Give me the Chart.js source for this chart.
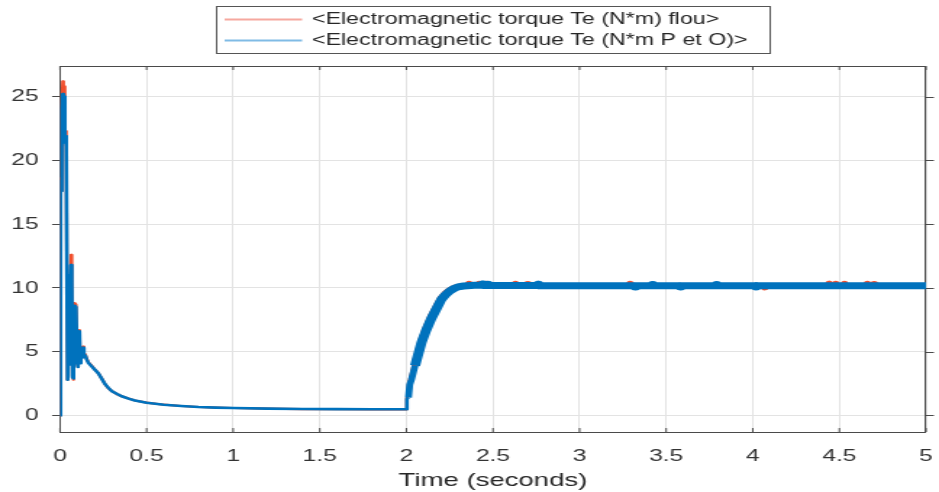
<!DOCTYPE html>
<html>
<head>
<meta charset="utf-8">
<script src="https://cdn.jsdelivr.net/npm/chart.js@4/dist/chart.umd.min.js"></script>
<style>
  html, body { margin: 0; padding: 0; background: #fff; overflow: hidden; }
  /* the figure is drawn narrow and widened, like an exported plot resized to a wide frame */
  #wrap { width: 648px; height: 492px; transform: scaleX(1.449074); transform-origin: 0 0; }
  canvas { display: block; }
</style>
</head>
<body>
<div id="wrap"><canvas id="chart" width="648" height="492"></canvas></div>
<script>
// ---- data ----------------------------------------------------------------
const seriesNames = [
  '<Electromagnetic torque Te (N*m) flou>',
  '<Electromagnetic torque Te (N*m P et O)>'
];

// fuzzy controller torque (s, N*m)
const fuzzyTime = [
  0, 0.002, 0.004, 0.006, 0.008, 0.012, 0.016, 0.020, 0.024, 0.028, 0.032, 0.036,
  0.040, 0.044, 0.048, 0.052, 0.056, 0.060, 0.064, 0.068, 0.072, 0.076, 0.080, 0.086,
  0.092, 0.098, 0.104, 0.108, 0.112, 0.116, 0.120, 0.126, 0.132, 0.138, 0.146, 0.154,
  0.165, 0.183, 0.2, 0.221, 0.24, 0.26, 0.28, 0.3, 0.33, 0.356, 0.4, 0.433, 0.5, 0.6,
  0.7, 0.8, 0.9, 1.0, 1.2, 1.4, 1.6, 1.8, 2.0,
  2.003, 2.012, 2.019, 2.029, 2.05, 2.087, 2.115, 2.144, 2.175, 2.202, 2.225, 2.25,
  2.275, 2.298, 2.33,
  2.357, 2.36, 2.363, 2.394, 2.417, 2.42, 2.423, 2.457, 2.46, 2.463,
  2.627, 2.63, 2.633, 2.697, 2.7, 2.703, 3.0, 3.287, 3.29, 3.293, 3.6,
  4.067, 4.07, 4.073, 4.437, 4.44, 4.443, 4.477, 4.48, 4.483, 4.527, 4.53, 4.533,
  4.657, 4.66, 4.663, 4.697, 4.7, 4.703, 5.0
];
const fuzzyTorque = [
  0, 6.2, 18.6, 17.6, 18.4, 24.5, 26.2, 25.0, 25.8, 21.8, 22.3, 21.3,
  10.5, 2.8, 10.4, 9.9, 4.2, 9.7, 12.6, 10.8, 3.1, 2.8, 5.2, 8.8,
  8.7, 4.4, 3.8, 6.6, 6.7, 4.3, 5.3, 4.6, 5.4, 4.6, 4.8, 4.45,
  4.15, 3.9, 3.62, 3.32, 2.92, 2.45, 2.12, 1.9, 1.66, 1.5, 1.3, 1.17, 1.0, 0.84,
  0.74, 0.66, 0.61, 0.58, 0.53, 0.5, 0.49, 0.48, 0.48,
  1.4, 1.6, 2.5, 3.0, 4.1, 5.9, 6.9, 7.8, 8.6, 9.25, 9.6, 9.85,
  10.02, 10.12, 10.18,
  10.19, 10.36, 10.19, 10.2, 10.19, 10.37, 10.19, 10.19, 10.36, 10.19,
  10.18, 10.36, 10.18, 10.18, 10.35, 10.18, 10.17, 10.17, 10.37, 10.17, 10.17,
  10.17, 10.0, 10.17, 10.17, 10.37, 10.17, 10.17, 10.36, 10.17, 10.17, 10.37, 10.17,
  10.17, 10.36, 10.17, 10.17, 10.35, 10.17, 10.17
];

// P&O controller torque (s, N*m)
const poTime = [
  0, 0.002, 0.004, 0.006, 0.008, 0.012, 0.016, 0.020, 0.024, 0.028, 0.032, 0.036,
  0.040, 0.044, 0.048, 0.052, 0.056, 0.060, 0.064, 0.068, 0.072, 0.076, 0.080, 0.086,
  0.092, 0.098, 0.104, 0.108, 0.112, 0.116, 0.120, 0.126, 0.132, 0.138, 0.146, 0.154,
  0.165, 0.183, 0.2, 0.221, 0.24, 0.26, 0.28, 0.3, 0.33, 0.356, 0.4, 0.433, 0.5, 0.6,
  0.7, 0.8, 0.9, 1.0, 1.2, 1.4, 1.6, 1.8, 2.0,
  2.003, 2.012, 2.019, 2.029, 2.05, 2.087, 2.115, 2.144, 2.175, 2.202, 2.225, 2.25,
  2.275, 2.298, 2.33, 2.394,
  2.437, 2.44, 2.443, 2.467, 2.47, 2.473, 2.6, 2.757, 2.76, 2.763, 2.9, 3.1,
  3.317, 3.32, 3.323, 3.417, 3.42, 3.423, 3.577, 3.58, 3.583, 3.787, 3.79, 3.793,
  4.017, 4.02, 4.023, 4.3, 4.6, 4.8, 5.0
];
const poTorque = [
  0, 5.9, 17.8, 18.4, 17.6, 24.0, 25.2, 24.4, 25.0, 21.4, 21.9, 21.1,
  11.0, 2.8, 10.0, 9.2, 4.0, 9.5, 11.8, 10.4, 3.0, 2.9, 5.0, 8.6,
  8.5, 4.2, 3.8, 6.5, 6.6, 4.1, 5.2, 4.5, 5.3, 4.6, 4.7, 4.4,
  4.1, 3.85, 3.6, 3.3, 2.9, 2.45, 2.15, 1.9, 1.68, 1.5, 1.3, 1.17, 1.0, 0.84,
  0.74, 0.66, 0.61, 0.58, 0.53, 0.5, 0.49, 0.48, 0.48,
  1.3, 1.4, 2.4, 2.8, 3.9, 5.7, 6.7, 7.6, 8.4, 9.1, 9.45, 9.75,
  9.95, 10.08, 10.15, 10.2,
  10.2, 10.3, 10.2, 10.19, 10.29, 10.19, 10.18, 10.18, 10.28, 10.18, 10.17, 10.17,
  10.17, 10.07, 10.17, 10.17, 10.27, 10.17, 10.16, 10.07, 10.16, 10.17, 10.27, 10.17,
  10.17, 10.07, 10.17, 10.17, 10.16, 10.17, 10.17
];

const xTickValues = [0, 0.5, 1, 1.5, 2, 2.5, 3, 3.5, 4, 4.5, 5];
const xTickLabels = ['0', '0.5', '1', '1.5', '2', '2.5', '3', '3.5', '4', '4.5', '5'];
const yTickValues = [0, 5, 10, 15, 20, 25];
const yTickLabels = ['0', '5', '10', '15', '20', '25'];

// ---- styling ---------------------------------------------------------------
const FONT = "'Liberation Sans', Arial, Helvetica, sans-serif";
const RED = 'rgb(240, 78, 44)';
const BLUE = 'rgb(0, 114, 189)';
const LEGEND_LINE = ['rgba(240, 110, 95, 0.6)', 'rgba(60, 150, 215, 0.65)'];
const AXIS = '#4a4a4a';
const GRID = '#e3e3e3';

const toPoints = (ts, vs) => ts.map((t, i) => ({ x: t, y: vs[i] }));

// line gets heavier once the load step at t = 2 s sets in (dense ripple band)
const bandWidth = (full, thin) => c => {
  const t = c.p0.parsed.x;
  if (t < 2.01) return thin;
  if (t < 2.05) return (thin + full) / 2;
  return full;
};

// frame box, inward x ticks and right-side y ticks
const axesFrame = {
  id: 'axesFrame',
  beforeDatasetsDraw(chart) {
    const { ctx, chartArea: a, scales: { x, y } } = chart;
    ctx.save();
    ctx.strokeStyle = AXIS;
    ctx.lineWidth = 1;
    ctx.strokeRect(Math.round(a.left) + 0.5, Math.round(a.top) + 0.5,
                   Math.round(a.right - a.left) - 1, Math.round(a.bottom - a.top));
    ctx.beginPath();
    xTickValues.forEach(v => {
      const px = x.getPixelForValue(v);
      ctx.moveTo(px, a.bottom); ctx.lineTo(px, a.bottom - 4);
      ctx.moveTo(px, a.top); ctx.lineTo(px, a.top + 4);
    });
    yTickValues.forEach(v => {
      const py = Math.round(y.getPixelForValue(v)) + 0.5;
      ctx.moveTo(a.right, py); ctx.lineTo(a.right + 5.5, py);
    });
    ctx.stroke();
    ctx.restore();
  }
};

// boxed legend, entries stacked with their lines left-aligned
const boxedLegend = {
  id: 'boxedLegend',
  afterDraw(chart) {
    const { ctx } = chart;
    const box = { left: 149.5, right: 531.5, top: 6.5, bottom: 53.5 };
    ctx.save();
    ctx.fillStyle = '#fff';
    ctx.fillRect(box.left, box.top, box.right - box.left, box.bottom - box.top);
    ctx.strokeStyle = '#555';
    ctx.lineWidth = 1;
    ctx.strokeRect(box.left, box.top, box.right - box.left, box.bottom - box.top);
    const rows = [19.5, 40.5];
    chart.data.datasets.forEach((ds, i) => {
      ctx.strokeStyle = LEGEND_LINE[i];
      ctx.lineWidth = 2;
      ctx.beginPath();
      ctx.moveTo(155, rows[i]);
      ctx.lineTo(208.5, rows[i]);
      ctx.stroke();
      ctx.fillStyle = '#262626';
      ctx.font = `16px ${FONT}`;
      ctx.textBaseline = 'middle';
      ctx.textAlign = 'left';
      ctx.fillText(ds.label, 215.3, rows[i] + 0.5);
    });
    ctx.restore();
  }
};

new Chart(document.getElementById('chart'), {
  type: 'line',
  data: {
    datasets: [
      {
        label: seriesNames[0],
        data: toPoints(fuzzyTime, fuzzyTorque),
        borderColor: RED,
        borderWidth: 2.2,
        borderJoinStyle: 'round',
        borderCapStyle: 'butt',
        pointRadius: 0,
        tension: 0,
        order: 2,
        segment: { borderWidth: bandWidth(5, 2.2) }
      },
      {
        label: seriesNames[1],
        data: toPoints(poTime, poTorque),
        borderColor: BLUE,
        borderWidth: 2.6,
        borderJoinStyle: 'round',
        borderCapStyle: 'butt',
        pointRadius: 0,
        tension: 0,
        order: 1,
        segment: { borderWidth: bandWidth(7, 2.6) }
      }
    ]
  },
  options: {
    responsive: false,
    animation: false,
    events: [],
    layout: { padding: { top: 66, right: 9, left: 0, bottom: 0 } },
    plugins: { legend: { display: false }, tooltip: { enabled: false } },
    scales: {
      x: {
        type: 'linear',
        min: 0,
        max: 5,
        afterBuildTicks: s => { s.ticks = xTickValues.map(v => ({ value: v })); },
        afterFit: s => { s.height = 60; s.paddingLeft = 0; s.paddingRight = 0; },
        ticks: {
          autoSkip: false,
          maxRotation: 0,
          padding: 14,
          color: '#333',
          font: { family: FONT, size: 17 },
          callback: (v, i) => xTickLabels[i]
        },
        grid: { color: GRID, lineWidth: 1, drawTicks: false },
        border: { display: false },
        title: {
          display: true,
          text: 'Time (seconds)',
          color: '#262626',
          font: { family: FONT, size: 19 },
          padding: { top: 0, bottom: 0 }
        }
      },
      y: {
        type: 'linear',
        min: -1.3,
        max: 27.4,
        afterBuildTicks: s => { s.ticks = yTickValues.map(v => ({ value: v })); },
        afterFit: s => { s.width = 41.4; s.paddingTop = 0; s.paddingBottom = 0; },
        ticks: {
          padding: 9.3,
          color: '#333',
          font: { family: FONT, size: 17 },
          callback: (v, i) => yTickLabels[i]
        },
        grid: { color: GRID, lineWidth: 1, drawTicks: true, tickLength: 5.5, tickColor: AXIS },
        border: { display: false }
      }
    }
  },
  plugins: [axesFrame, boxedLegend]
});
</script>
</body>
</html>
